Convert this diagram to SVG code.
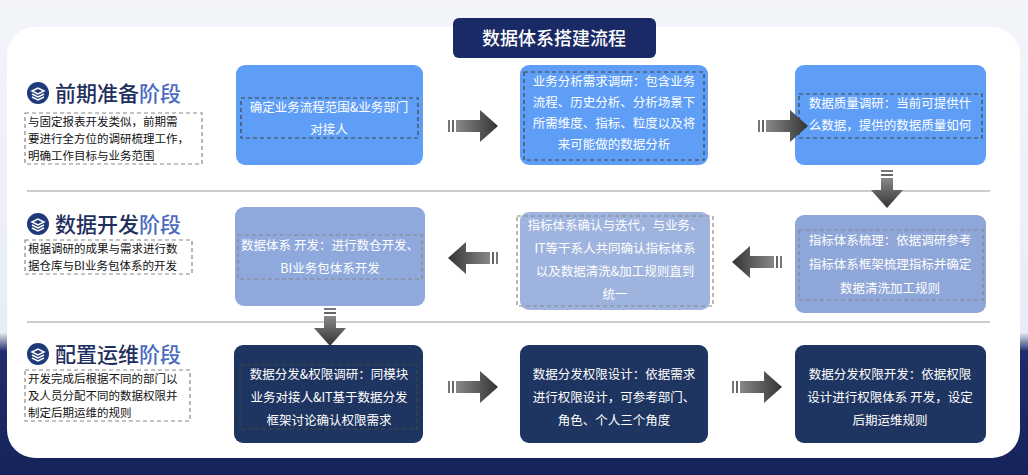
<svg xmlns="http://www.w3.org/2000/svg" width="1028" height="475" viewBox="0 0 1028 475">
<defs>
<linearGradient id="bg" x1="0" y1="0" x2="0" y2="1"><stop offset="0" stop-color="#f3f5fa"/><stop offset="0.7" stop-color="#e8ecf6"/><stop offset="0.74" stop-color="#1e2d6b"/><stop offset="1" stop-color="#16235a"/></linearGradient>
<linearGradient id="ar" x1="0" y1="0" x2="1" y2="0"><stop offset="0" stop-color="#888"/><stop offset="1" stop-color="#333"/></linearGradient>
<linearGradient id="ad" x1="0" y1="0" x2="0" y2="1"><stop offset="0" stop-color="#888"/><stop offset="1" stop-color="#333"/></linearGradient>
<g id="arR"><rect x="0" y="-6" width="2" height="12" fill="#777"/><rect x="4" y="-6" width="2" height="12" fill="#666"/><path d="M8,-6 H32 V-16 L50,0 L32,16 V6 H8 Z" fill="url(#ar)"/></g>
<g id="arD"><rect x="-6" y="0" width="12" height="2" fill="#777"/><rect x="-6" y="4" width="12" height="2" fill="#666"/><path d="M-6,8 V20 H-16 L0,38 L16,20 H6 V8 Z" fill="url(#ad)"/></g>
<g id="ic"><circle r="11" fill="#1f3a7a"/><path d="M-6,-2 L0,-5 L6,-2 L0,1 Z M-6,1 L0,4 L6,1 M-6,4 L0,7 L6,4" fill="none" stroke="#fff" stroke-width="1.5"/></g>
</defs>
<style>
text{font-family:"Noto Sans CJK SC","Liberation Sans",sans-serif}
.h{font-size:21px;fill:#1f2f5e;font-weight:500}
.h2{fill:#4a6bc0}
.d{font-size:11.5px;fill:#111}
.t{font-size:12.5px;fill:#fff;text-anchor:middle}
.db{fill:none;stroke:#888;stroke-dasharray:4 3;stroke-width:1.2}
.dw{fill:none;stroke:#444;stroke-dasharray:4 3;stroke-width:1.2}
.sep{stroke:#999;stroke-width:1}
</style>
<rect width="1028" height="475" fill="url(#bg)"/>
<rect x="7" y="27" width="1013" height="431" rx="28" fill="#fff"/>
<g id="title"><rect x="453" y="18" width="203" height="40" rx="6" fill="#1a2a66"/><text x="554" y="45" font-size="18" fill="#fff" text-anchor="middle" font-weight="500">数据体系搭建流程</text></g>
<line class="sep" x1="27" y1="191" x2="990" y2="191"/>
<line class="sep" x1="27" y1="322" x2="990" y2="322"/>
<g id="stage1"><use href="#ic" x="38" y="93"/><text x="55" y="101" class="h">前期准备<tspan class="h2">阶段</tspan></text>
<rect class="db" x="25" y="113" width="177" height="51"/>
<text class="d" x="28" y="126">与固定报表开发类似，前期需</text><text class="d" x="28" y="143">要进行全方位的调研梳理工作，</text><text class="d" x="28" y="160">明确工作目标与业务范围</text></g>
<g id="stage2"><use href="#ic" x="38" y="224"/><text x="55" y="232" class="h">数据开发<tspan class="h2">阶段</tspan></text>
<rect class="db" x="25" y="240" width="167" height="34"/>
<text class="d" x="28" y="253">根据调研的成果与需求进行数</text><text class="d" x="28" y="270">据仓库与BI业务包体系的开发</text></g>
<g id="stage3"><use href="#ic" x="38" y="354"/><text x="55" y="362" class="h">配置运维<tspan class="h2">阶段</tspan></text>
<rect class="db" x="25" y="370" width="165" height="51"/>
<text class="d" x="28" y="383">开发完成后根据不同的部门以</text><text class="d" x="28" y="400">及人员分配不同的数据权限并</text><text class="d" x="28" y="417">制定后期运维的规则</text></g>
<g id="n1"><rect x="236" y="65" width="187" height="100" rx="9" fill="#5e9ef7"/><rect class="dw" x="241" y="98" width="177" height="40"/><text class="t" x="329" y="112">确定业务流程范围&amp;业务部门</text><text class="t" x="329" y="134">对接人</text></g>
<g id="n2"><rect x="520" y="65" width="188" height="100" rx="9" fill="#5e9ef7"/><rect class="dw" x="524" y="72" width="180" height="88"/><text class="t" x="614" y="86">业务分析需求调研：包含业务</text><text class="t" x="614" y="107">流程、历史分析、分析场景下</text><text class="t" x="614" y="128">所需维度、指标、粒度以及将</text><text class="t" x="614" y="149">来可能做的数据分析</text></g>
<g id="n3"><rect x="795" y="65" width="191" height="100" rx="9" fill="#5e9ef7"/><rect class="dw" x="799" y="94" width="183" height="44"/><text class="t" x="890" y="108">数据质量调研：当前可提供什</text><text class="t" x="890" y="130">么数据，提供的数据质量如何</text></g>
<g id="n4"><rect x="235" y="207" width="190" height="99" rx="9" fill="#8fa9dc"/><rect class="db" x="238" y="235" width="184" height="44"/><text class="t" x="330" y="250">数据体系 开发：进行数仓开发、</text><text class="t" x="330" y="273">BI业务包体系开发</text></g>
<g id="n5"><rect x="520" y="212" width="190" height="98" rx="9" fill="#9eb3de"/><rect class="db" x="517" y="216" width="196" height="90"/><text class="t" x="615" y="230">指标体系确认与迭代，与业务、</text><text class="t" x="615" y="253">IT等干系人共同确认指标体系</text><text class="t" x="615" y="276">以及数据清洗&amp;加工规则直到</text><text class="t" x="615" y="299">统一</text></g>
<g id="n6"><rect x="795" y="215" width="191" height="98" rx="9" fill="#8fa6d8"/><rect class="db" x="799" y="230" width="184" height="70"/><text class="t" x="890" y="245">指标体系梳理：依据调研参考</text><text class="t" x="890" y="269">指标体系框架梳理指标并确定</text><text class="t" x="890" y="293">数据清洗加工规则</text></g>
<g id="n7"><rect x="234" y="345" width="189" height="98" rx="9" fill="#1f3561"/><rect class="dw" x="240" y="365" width="177" height="64"/><text class="t" x="329" y="379">数据分发&amp;权限调研：同模块</text><text class="t" x="329" y="402">业务对接人&amp;IT基于数据分发</text><text class="t" x="329" y="425">框架讨论确认权限需求</text></g>
<g id="n8"><rect x="520" y="345" width="188" height="98" rx="9" fill="#1f3561"/><text class="t" x="614" y="379">数据分发权限设计：依据需求</text><text class="t" x="614" y="402">进行权限设计，可参考部门、</text><text class="t" x="614" y="425">角色、个人三个角度</text></g>
<g id="n9"><rect x="795" y="345" width="191" height="98" rx="9" fill="#1f3561"/><text class="t" x="890" y="379">数据分发权限开发：依据权限</text><text class="t" x="890" y="402">设计进行权限体系 开发，设定</text><text class="t" x="890" y="425">后期运维规则</text></g>
<g id="connectors">
<use href="#arR" x="448" y="126"/>
<use href="#arR" x="758" y="126"/>
<use href="#arD" x="887" y="170"/>
<use href="#arR" x="498" y="258" transform="rotate(180 473 258) translate(-50 0)"/>
<use href="#arR" x="782" y="262" transform="rotate(180 757 262) translate(-50 0)"/>
<use href="#arD" x="330" y="308"/>
<use href="#arR" x="448" y="387"/>
<use href="#arR" x="732" y="387"/>
</g>
</svg>
